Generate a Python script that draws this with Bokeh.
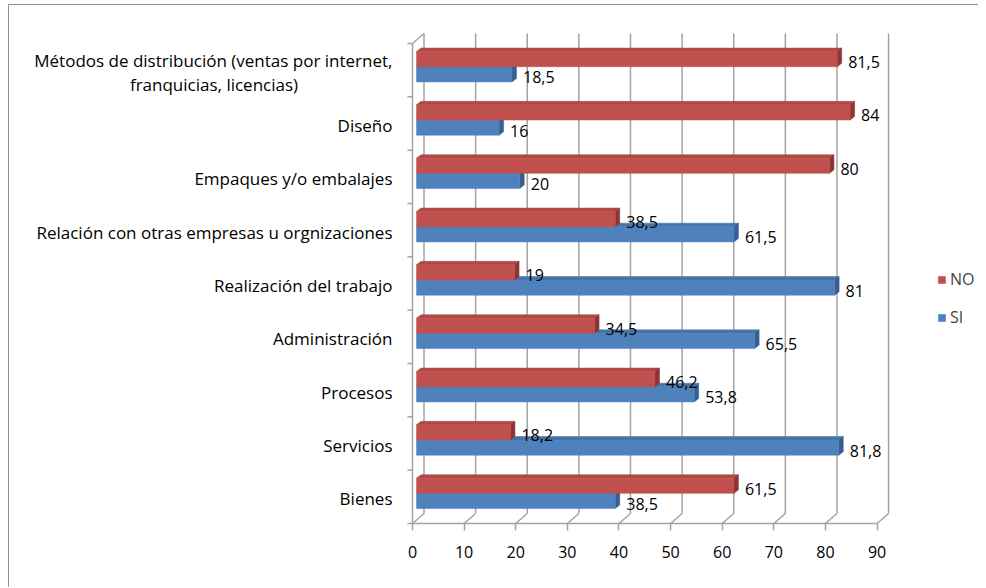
from bokeh.plotting import figure
from bokeh.models import Range1d, LinearAxis, FixedTicker, Legend, LegendItem
from bokeh.core.properties import value
from bokeh.embed import file_html
from bokeh.resources import INLINE

# ---------------- data (top to bottom) ----------------
categories = [
    "Métodos de distribución (ventas por internet,\nfranquicias, licencias)",
    "Diseño",
    "Empaques y/o embalajes",
    "Relación con otras empresas u orgnizaciones",
    "Realización del trabajo",
    "Administración",
    "Procesos",
    "Servicios",
    "Bienes",
]
no_values = [81.5, 84, 80, 38.5, 19, 34.5, 46.2, 18.2, 61.5]
si_values = [18.5, 16, 20, 61.5, 81, 65.5, 53.8, 81.8, 38.5]
x_ticks = [0, 10, 20, 30, 40, 50, 60, 70, 80, 90]
series_names = ["NO", "SI"]

# ---------------- styling / geometry ----------------
FONT = "Open Sans"
FS = "16px"
FS_CAT = "17px"
W, H = 970, 583
PXU = 5.162          # pixels per value unit
PXB = 53.33          # pixels per category band
ZERO_PX = 403        # frame left -> value 0
TOP_PX = 38          # frame top -> top of category area
BOTTOM_PX = 2        # value axis floor -> frame bottom
N = len(categories)

DX = 11.5 / PXU      # wall depth
DY = 10.0 / PXB
BX0 = 4.0 / PXU      # bar front face offset
BDX = 4.5 / PXU      # bar depth
BDY = 3.5 / PXB
TICK = 5.0 / PXU

GRID = "#a3a3a3"
RED, RED_TOP, RED_SIDE = "#C0504D", "#B04744", "#8E3533"
BLUE, BLUE_TOP, BLUE_SIDE = "#4F81BD", "#4573AA", "#365F91"

x_start = -ZERO_PX / PXU
x_end = x_start + W / PXU
y_end = N + TOP_PX / PXB
y_start = -BOTTOM_PX / PXB
frame_h = (y_end - y_start) * PXB

p = figure(width=W, height=H, x_range=Range1d(x_start, x_end), y_range=Range1d(y_start, y_end),
           output_backend="svg", toolbar_location=None, x_axis_type=None, y_axis_type=None,
           min_border_left=0, min_border_right=0, min_border_top=0,
           min_border_bottom=int(round(H - frame_h)))
p.outline_line_color = None
p.background_fill_color = "white"
p.border_fill_color = "white"
p.styles = {"margin-left": "8px", "margin-top": "4px",
            "border-left": "1px solid #8f8f8f", "border-top": "1px solid #8f8f8f"}

# ---------------- 3D walls ----------------
xmax = x_ticks[-1]
p.segment(x0=[t + DX for t in x_ticks], y0=[DY] * len(x_ticks),
          x1=[t + DX for t in x_ticks], y1=[N + DY] * len(x_ticks),
          line_color=GRID, line_width=1.5)
p.segment(x0=x_ticks, y0=[0] * len(x_ticks), x1=[t + DX for t in x_ticks], y1=[DY] * len(x_ticks),
          line_color=GRID, line_width=1.5)
p.segment(x0=[0], y0=[N], x1=[DX], y1=[N + DY], line_color=GRID, line_width=1.5)
p.segment(x0=[0, 0], y0=[0, 0], x1=[xmax, 0], y1=[0, N], line_color=GRID, line_width=1.5)
p.segment(x0=[-TICK] * (N + 1), y0=list(range(N + 1)), x1=[0] * (N + 1), y1=list(range(N + 1)),
          line_color=GRID, line_width=1.5)

# ---------------- bars ----------------
def bar_set(vals, lo, hi, front, top, side):
    bands = [N - 1 - i for i in range(N)]
    lefts = [BX0] * N
    rights = [BX0 + v for v in vals]
    bots = [b + lo for b in bands]
    tops = [b + hi for b in bands]
    p.patches(xs=[[l, r, r + BDX, l + BDX] for l, r in zip(lefts, rights)],
              ys=[[t, t, t + BDY, t + BDY] for t in tops],
              fill_color=top, line_color=top, line_width=0.5)
    p.patches(xs=[[r, r, r + BDX, r + BDX] for r in rights],
              ys=[[b, t, t + BDY, b + BDY] for b, t in zip(bots, tops)],
              fill_color=side, line_color=side, line_width=0.5)
    r = p.quad(left=lefts, right=rights, bottom=bots, top=tops,
               fill_color=front, line_color=front, line_width=0.5)
    labels = [f"{v:g}".replace(".", ",") for v in vals]
    p.text(x=rights, y=[(b + t) / 2 for b, t in zip(bots, tops)], text=labels,
           x_offset=11, y_offset=3, text_align="left", text_baseline="middle",
           text_font=value(FONT), text_font_size=value(FS), text_color="#000000")
    return r

r_si = bar_set(si_values, 0.28, 0.565, BLUE, BLUE_TOP, BLUE_SIDE)
r_no = bar_set(no_values, 0.565, 0.85, RED, RED_TOP, RED_SIDE)

# ---------------- category labels ----------------
LINE_H = 24
FIRST_W = 357
rx, ry, rt, ro = [], [], [], []
cx, cy, ct, co = [], [], [], []
for i, c in enumerate(categories):
    lines = c.split("\n")
    n = len(lines)
    yc = N - 1 - i + 0.5
    for k, ln in enumerate(lines):
        off = 2 + (k - (n - 1) / 2) * LINE_H
        if k == 0:
            rx.append(0); ry.append(yc); rt.append(ln); ro.append(off)
        else:
            cx.append(0); cy.append(yc); ct.append(ln); co.append(off)
p.text(x=rx, y=ry, text=rt, y_offset=ro, x_offset=-20, text_align="right", text_baseline="middle",
       text_font=value(FONT), text_font_size=value(FS_CAT), text_color="#000000")
p.text(x=cx, y=cy, text=ct, y_offset=co, x_offset=-20 - FIRST_W / 2, text_align="center",
       text_baseline="middle", text_font=value(FONT), text_font_size=value(FS_CAT), text_color="#000000")

# ---------------- value axis ----------------
ax = LinearAxis(ticker=FixedTicker(ticks=x_ticks))
ax.axis_line_color = None
ax.major_tick_line_color = GRID
ax.major_tick_line_width = 1.5
ax.major_tick_in = 2
ax.major_tick_out = 5
ax.minor_tick_line_color = None
ax.major_label_standoff = 15
ax.major_label_text_font = FONT
ax.major_label_text_font_size = FS
ax.major_label_text_color = "#000000"
p.add_layout(ax, "below")

# ---------------- legend ----------------
legend = Legend(items=[LegendItem(label=series_names[0], renderers=[r_no]),
                       LegendItem(label=series_names[1], renderers=[r_si])],
                location=(928, 197), orientation="vertical")
legend.background_fill_alpha = 0
legend.border_line_color = None
legend.glyph_width = 9
legend.glyph_height = 9
legend.label_height = 20
legend.spacing = 16
legend.padding = 0
legend.margin = 0
legend.label_standoff = 4
legend.label_text_font = FONT
legend.label_text_font_size = FS
p.add_layout(legend)

open("out.html", "w").write(file_html(p, INLINE))
